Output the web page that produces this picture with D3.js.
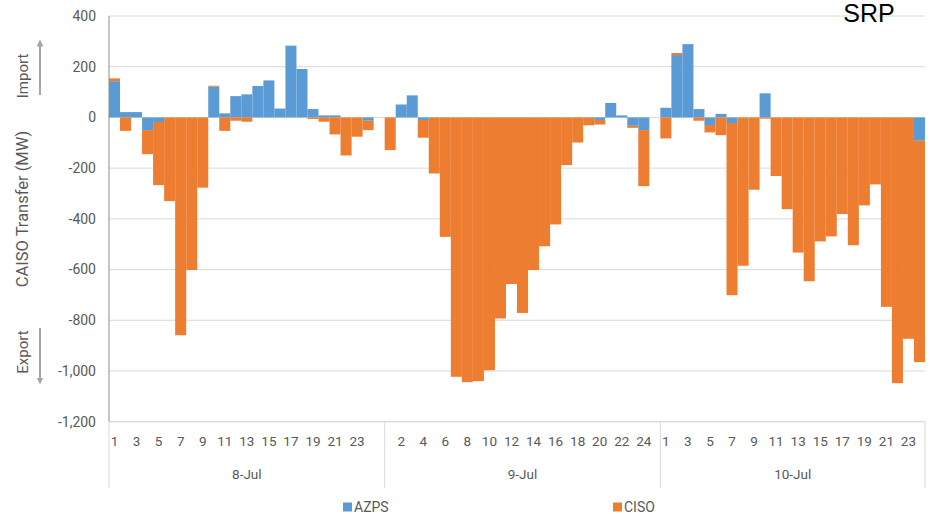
<!DOCTYPE html>
<html>
<head>
<meta charset="utf-8">
<script src="https://cdn.jsdelivr.net/npm/d3@7"></script>
<style>
  body { margin: 0; background: #fff; }
  text { font-family: Roboto, "Liberation Sans", sans-serif; fill: #595959; }
</style>
</head>
<body>
<svg id="chart" width="931" height="514"></svg>
<script>
d3.identity = function(d) { return d; }

var days = ["8-Jul", "9-Jul", "10-Jul"];
var hours = d3.range(1, 25);
var series = ["AZPS", "CISO"];
var colors = ["#5B9BD5", "#ED7D31"];
var y_ticks = [400, 200, 0, -200, -400, -600, -800, -1000, -1200];

// MW per hour, one array per day
var azps_8 = [143, 21, 21, -50, -18, 0, 0, 0, 0, 121, 16, 84, 91, 124, 146, 35, 283, 191, 33, 8, 8, 0, 0, -13];
var ciso_8 = [11, -53, 0, -95, -249, -330, -859, -602, -277, 4, -53, -13, -17, 0, 0, 0, 0, 0, -6, -17, -67, -150, -76, -37];
var azps_9 = [0, 51, 87, -10, 0, 0, 0, 0, 0, 0, 0, 0, 0, 0, 0, 0, 0, 0, 0, -10, 57, 8, -33, -50];
var ciso_9 = [-129, 0, 0, -70, -221, -471, -1023, -1044, -1040, -997, -793, -657, -771, -602, -508, -422, -188, -99, -31, -18, 0, 0, -8, -221];
var azps_10 = [38, 246, 289, 33, -30, 14, -22, 0, 0, 95, 0, 0, 0, 0, 0, 0, 0, 0, 0, 0, 0, 0, 0, -92];
var ciso_10 = [-83, 8, 0, -13, -29, -70, -679, -585, -285, -5, -231, -362, -533, -646, -489, -469, -381, -504, -347, -264, -747, -1048, -873, -873];

var azps = [azps_8, azps_9, azps_10];
var ciso = [ciso_8, ciso_9, ciso_10];

// rows: 24 hours per day, with an empty slot closing the first two days
var rows = [];
days.forEach(function(day, di) {
    hours.forEach(function(h, hi) {
        rows.push({key: day + "-" + h, day: day, label: String(h), AZPS: azps[di][hi], CISO: ciso[di][hi]});
    });
    if (di < days.length - 1)
        rows.push({key: day + "-blank", day: day, label: "", AZPS: 0, CISO: 0});
});

var svg = d3.select("#chart");
var plot_left = 109, plot_right = 925, plot_top = 16, plot_bottom = 421.7;

var x = d3.scaleBand().domain(rows.map(function(d) { return d.key; })).range([plot_left, plot_right]).padding(0);
var y = d3.scaleLinear().domain([-1200, 400]).range([plot_bottom, plot_top]);
var fmt = d3.formatLocale({decimal: ".", thousands: ",", grouping: [3], currency: ["", ""], minus: "-"}).format(",");

// gridlines
svg.append("g").selectAll("line").data(y_ticks).enter()
    .append("line")
        .attr("x1", plot_left).attr("x2", plot_right)
        .attr("y1", function(d) { return y(d); })
        .attr("y2", function(d) { return y(d); })
        .attr("stroke", "#d9d9d9").attr("stroke-width", 1);

// y tick labels
svg.append("g").selectAll("text").data(y_ticks).enter()
    .append("text")
        .attr("x", 96)
        .attr("y", function(d) { return y(d); })
        .attr("dy", "0.35em")
        .attr("text-anchor", "end")
        .style("font-size", "14px")
        .text(fmt);

// bars
var stacked = d3.stack().keys(series).offset(d3.stackOffsetDiverging)(rows);
svg.append("g").selectAll("g").data(stacked).enter()
    .append("g")
        .attr("fill", function(d, i) { return colors[i]; })
    .selectAll("rect").data(function(d) { return d; }).enter()
    .append("rect")
        .attr("x", function(d) { return x(d.data.key); })
        .attr("width", x.bandwidth())
        .attr("y", function(d) { return y(d[1]); })
        .attr("height", function(d) { return Math.abs(y(d[0]) - y(d[1])); });

// axes lines
svg.append("line").attr("x1", plot_left).attr("x2", plot_right).attr("y1", plot_bottom).attr("y2", plot_bottom)
    .attr("stroke", "#d9d9d9");
svg.append("line").attr("x1", plot_left).attr("x2", plot_left).attr("y1", plot_top).attr("y2", plot_bottom)
    .attr("stroke", "#8c8c8c");

// category separators between days
var bounds = [rows[0].key];
rows.forEach(function(d, i) { if (i > 0 && d.day != rows[i - 1].day) bounds.push(d.key); });
var sep_x = bounds.map(function(k) { return x(k); }).concat([plot_right]);
svg.append("g").selectAll("line").data(sep_x).enter()
    .append("line")
        .attr("x1", d3.identity).attr("x2", d3.identity)
        .attr("y1", plot_bottom).attr("y2", 488)
        .attr("stroke", "#d9d9d9");

// hour labels (every other slot)
svg.append("g").selectAll("text").data(rows.filter(function(d, i) { return i % 2 == 0; })).enter()
    .append("text")
        .attr("x", function(d) { return x(d.key) + x.bandwidth() / 2; })
        .attr("y", 446)
        .attr("text-anchor", "middle")
        .style("font-size", "13.5px")
        .text(function(d) { return d.label; });

// day labels
svg.append("g").selectAll("text").data(days).enter()
    .append("text")
        .attr("x", function(d, i) { return (sep_x[i] + sep_x[i + 1]) / 2; })
        .attr("y", 479)
        .attr("text-anchor", "middle")
        .style("font-size", "13.5px")
        .text(d3.identity);

// y axis title and arrows
svg.append("text")
    .attr("transform", "translate(28,209) rotate(-90)")
    .attr("text-anchor", "middle")
    .style("font-size", "16.5px")
    .text("CAISO Transfer (MW)");
svg.append("text")
    .attr("transform", "translate(28,76) rotate(-90)")
    .attr("text-anchor", "middle")
    .style("font-size", "15px")
    .text("Import");
svg.append("text")
    .attr("transform", "translate(28,352) rotate(-90)")
    .attr("text-anchor", "middle")
    .style("font-size", "15px")
    .text("Export");

svg.append("defs").append("marker")
    .attr("id", "head").attr("viewBox", "0 0 10 10")
    .attr("refX", 5).attr("refY", 5)
    .attr("markerWidth", 3.5).attr("markerHeight", 3.5)
    .attr("orient", "auto")
    .append("path").attr("d", "M0,0L10,5L0,10Z").attr("fill", "#a6a6a6");
svg.append("line").attr("x1", 40).attr("x2", 40).attr("y1", 95).attr("y2", 43)
    .attr("stroke", "#a6a6a6").attr("stroke-width", 2).attr("marker-end", "url(#head)");
svg.append("line").attr("x1", 40).attr("x2", 40).attr("y1", 328).attr("y2", 381)
    .attr("stroke", "#a6a6a6").attr("stroke-width", 2).attr("marker-end", "url(#head)");

// legend
var legend_x = [343, 613];
var legend = svg.append("g").selectAll("g").data(series).enter()
    .append("g")
        .attr("transform", function(d, i) { return "translate(" + legend_x[i] + ",507)"; });
legend.append("rect").attr("x", 0).attr("y", -4.5).attr("width", 9).attr("height", 9)
    .attr("fill", function(d, i) { return colors[i]; });
legend.append("text").attr("x", 11).attr("y", 0).attr("dy", "0.35em")
    .style("font-size", "14px")
    .text(d3.identity);

// title
svg.append("text")
    .attr("x", 869).attr("y", 22)
    .attr("text-anchor", "middle")
    .style("font-family", "Arial, 'Liberation Sans', sans-serif")
    .style("font-size", "25px")
    .style("fill", "#000")
    .text("SRP");
</script>
</body>
</html>
